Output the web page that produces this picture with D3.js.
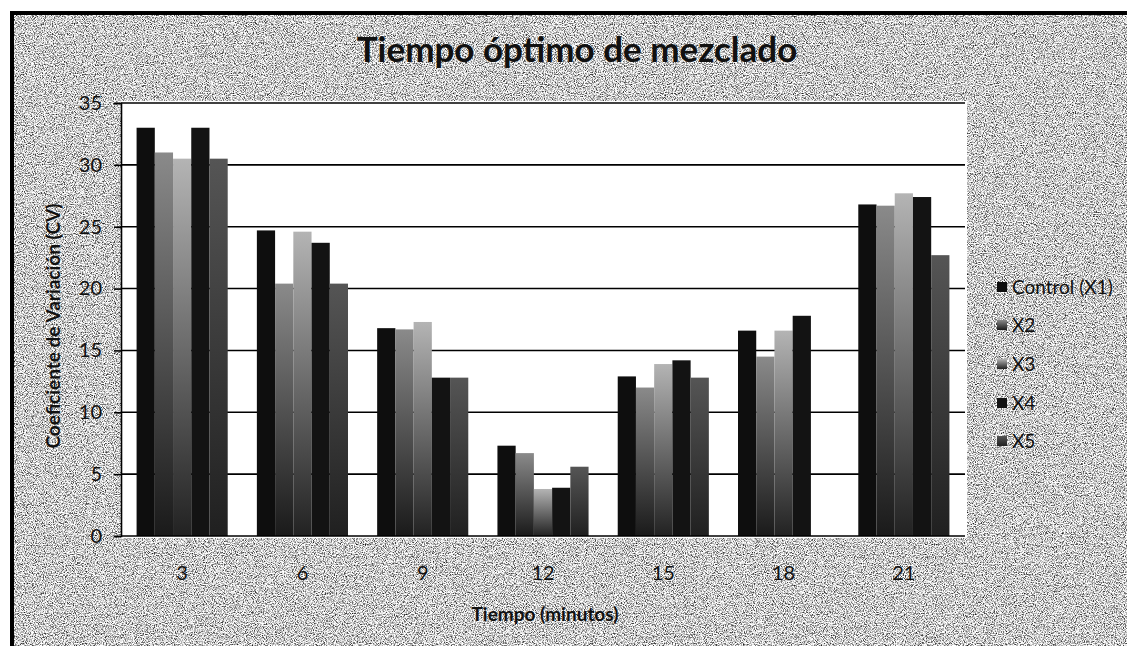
<!DOCTYPE html>
<html><head><meta charset="utf-8">
<script src="https://cdn.jsdelivr.net/npm/d3@7"></script>
<style>html,body{margin:0;padding:0;background:#fff;}svg{display:block;font-family:Lato,"Open Sans",sans-serif;}</style>
</head><body>
<svg id="chart" width="1127" height="646"></svg>
<script>
const categories = ["3","6","9","12","15","18","21"];
const seriesNames = ["Control (X1)","X2","X3","X4","X5"];
const control = [33.0, 24.7, 16.8, 7.3, 12.9, 16.6, 26.8];
const x2 = [31.0, 20.4, 16.7, 6.7, 12.0, 14.5, 26.7];
const x3 = [30.5, 24.6, 17.3, 3.8, 13.9, 16.6, 27.7];
const x4 = [33.0, 23.7, 12.8, 3.9, 14.2, 17.8, 27.4];
const x5 = [30.5, 20.4, 12.8, 5.6, 12.8, null, 22.7];
const yTicks = [0,5,10,15,20,25,30,35];
const seriesValues = [control, x2, x3, x4, x5];

(function(){
const svg = d3.select("#chart");
const defs = svg.append("defs");

const f = defs.append("filter").attr("id","speckle").attr("x",0).attr("y",0).attr("width",1).attr("height",1);
f.append("feTurbulence").attr("type","fractalNoise").attr("baseFrequency","0.9").attr("numOctaves",2).attr("seed",7).attr("result","t");
f.append("feColorMatrix").attr("type","matrix")
 .attr("values","0 0 0 0 0  0 0 0 0 0  0 0 0 0 0  1.2 0 0 0 -0.1").attr("result","a");
const ct = f.append("feComponentTransfer");
ct.append("feFuncA").attr("type","discrete").attr("tableValues","0 0 0 0.1 0.3 0.55 0.75 0.9");

const grads = [
  ["#0e0e0e","#0e0e0e"],
  ["#8a8a8a","#1a1a1a"],
  ["#b4b4b4","#222222"],
  ["#131313","#131313"],
  ["#555555","#202020"]
];
grads.forEach((g,i)=>{
  const lg = defs.append("linearGradient").attr("id","g"+i).attr("x1",0).attr("y1",0).attr("x2",0).attr("y2",1);
  lg.append("stop").attr("offset","0%").attr("stop-color",g[0]);
  lg.append("stop").attr("offset","100%").attr("stop-color",g[1]);
});

svg.append("rect").attr("x",12).attr("y",13).attr("width",1127).attr("height",646).attr("fill","#ffffff");
svg.append("rect").attr("x",12).attr("y",13).attr("width",1115).attr("height",633).attr("fill","#000").attr("filter","url(#speckle)");
svg.append("line").attr("x1",10).attr("x2",1127).attr("y1",13).attr("y2",13).attr("stroke","#000").attr("stroke-width",4);
svg.append("line").attr("x1",12).attr("x2",12).attr("y1",11).attr("y2",646).attr("stroke","#000").attr("stroke-width",4);

const pL = 121, pR = 965, pT = 103, pB = 536;
svg.append("rect").attr("x",pL).attr("y",pT-2).attr("width",pR-pL+2).attr("height",pB-pT+4).attr("fill","#fff");

const x = d3.scaleBand().domain(categories).range([pL+1, pR-1]);
const xs = d3.scaleBand().domain(seriesNames).range([0, x.bandwidth()]).paddingOuter(0.8);
const y = d3.scaleLinear().domain([0,35]).range([pB, pT]);

svg.append("g").selectAll("line").data(yTicks.filter(d=>d>0)).join("line")
  .attr("x1",pL).attr("x2",pR).attr("y1",d=>y(d)).attr("y2",d=>y(d))
  .attr("stroke","#000").attr("stroke-width",1.6);

const groups = svg.append("g").selectAll("g").data(categories).join("g")
  .attr("transform",d=>`translate(${x(d)},0)`);
groups.selectAll("rect").data((c,ci)=>seriesNames.map((s,si)=>({s,si,v:seriesValues[si][ci]})).filter(d=>d.v!=null))
  .join("rect")
  .attr("x",d=>xs(d.s)).attr("width",xs.bandwidth())
  .attr("y",d=>y(d.v)).attr("height",d=>y(0)-y(d.v))
  .attr("fill",d=>`url(#g${d.si})`);

const yAxis = d3.axisLeft(y).tickValues(yTicks).tickSize(7).tickPadding(12);
const ga = svg.append("g").attr("transform",`translate(${pL},0)`).call(yAxis);
ga.select(".domain").attr("stroke","#000").attr("stroke-width",1.6);
ga.selectAll(".tick line").attr("stroke","#000").attr("stroke-width",1.6);
ga.selectAll("text").attr("font-size",20).attr("fill","#111").attr("font-family","Lato");

const xAxis = d3.axisBottom(x).tickSize(0).tickPadding(30);
const gx = svg.append("g").attr("transform",`translate(0,${pB})`).call(xAxis);
gx.select(".domain").attr("stroke","#000").attr("stroke-width",1.6).attr("d",`M${pL},0H${pR}`);
gx.selectAll("text").attr("font-size",20).attr("fill","#111").attr("font-family","Lato");

svg.append("text").attr("x",577).attr("y",62).attr("text-anchor","middle")
  .attr("font-size",35).attr("font-weight","bold").attr("fill","#111").text("Tiempo óptimo de mezclado");
svg.append("text").attr("x",545).attr("y",621).attr("text-anchor","middle")
  .attr("font-size",19).attr("font-weight","bold").attr("fill","#111").text("Tiempo (minutos)");
svg.append("text").attr("transform","translate(60,326) rotate(-90)").attr("text-anchor","middle")
  .attr("font-size",19).attr("font-weight","bold").attr("fill","#111").text("Coeficiente de Variación  (CV)");

const legY = [287,325,364,403,441];
const leg = svg.append("g").selectAll("g").data(seriesNames).join("g")
  .attr("transform",(d,i)=>`translate(997,${legY[i]})`);
leg.append("rect").attr("x",0).attr("y",-5).attr("width",10).attr("height",10).attr("fill",(d,i)=>`url(#g${i})`);
leg.append("text").attr("x",15).attr("y",7).attr("font-size",19).attr("fill","#111").text(d=>d);
})();
</script>
</body></html>
